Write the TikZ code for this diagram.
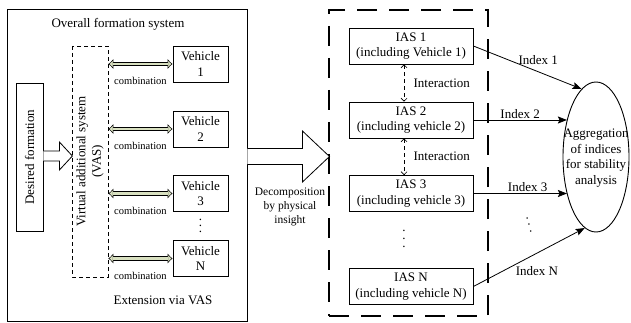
\documentclass[tikz,border=0pt]{standalone}
\usepackage{fontspec}
\setmainfont{Liberation Serif}
\usetikzlibrary{arrows.meta}
\usetikzlibrary{shapes.geometric}

\definecolor{combofill}{RGB}{216,224,192}

\begin{document}
\begin{tikzpicture}[x = 1pt, y = -1pt, >=Stealth, every node/.style = {font = \fontsize{13}{15.5}\selectfont}, blockbox/.style = {draw, line width = 0.8pt, align = center, inner sep = 0pt}]
    % Posiciones de las columnas de bloques.
    \pgfmathsetmacro{\xV}{200.5}
    \pgfmathsetmacro{\xI}{411}
    \pgfmathsetmacro{\yM}{156.5}

    % Estilos de las flechas, cada una a su manera.
    \tikzset{combo/.style = {line width = 4.4pt, {Latex[length = 5pt, width = 10pt, line width = 0.5pt, fill = combofill]}-{Latex[length = 5pt, width = 10pt, line width = 0.5pt, fill = combofill]}, postaction = {draw = combofill, line width = 2.8pt, -, shorten <= 4.6pt, shorten >= 4.6pt}}}
    \tikzset{interact/.style = {dash pattern = on 4pt off 3pt, line width = 0.6pt, {Straight Barb[length = 3pt, width = 6pt]}-{Straight Barb[length = 3pt, width = 6pt]}}}
    \tikzset{index/.style = {line width = 0.8pt, -{Stealth[length = 9pt, width = 7pt, inset = 1.5pt]}}}
    \tikzset{hollow/.style = {draw, line width = 0.8pt, fill = white, line join = miter}}
    % Puntos suspensivos verticales, con más aire que \vdots.
    \tikzset{dotstack/.style = {align = center, inner sep = 0pt, font = \fontsize{13}{#1}\selectfont}}

    \useasboundingbox (0, 0) rectangle (631, 323);

    % Sistema de formación completo:
    \node[draw, line width = 0.9pt, minimum width = 240, minimum height = 312, inner sep = 0pt] (overall) at (127, 165) {};
    \node at (118, 24) {Overall formation system};
    \node at (163, 300) {Extension via VAS};

    % Formación deseada y VAS (giradas, así que south queda a la derecha):
    \node[blockbox, rotate = 90, minimum width = 148, minimum height = 27] (df) at (29.5, 157) {Desired formation};
    \node[draw, dash pattern = on 4pt off 3pt, line width = 0.7pt, rotate = 90, align = center, inner sep = 0pt, minimum width = 231, minimum height = 36] (vas) at (90, 161.5) {Virtual additional system\\(VAS)};

    \coordinate (hD) at (0, 156);
    \draw[hollow] (df.south |- hD) ++(0, -5) -- ++(16, 0) -- ++(0, -9) -- ++(13, 14) -- ++(-13, 14) -- ++(0, -9) -- ++(-16, 0);

    % Vehículos y su combinación con el VAS:
    \foreach \n/\y/\lab in {1/64/1, 2/129/2, 3/193.5/3, 4/258.5/N} {
        \node[blockbox, minimum width = 55, minimum height = 36] (v\n) at (\xV, \y) {Vehicle\\\lab};
        \draw[combo] (vas.south |- v\n) -- (v\n.west) node[midway, below = 8pt, font = \fontsize{10.5}{12}\selectfont] {combination};
    }
    \node[dotstack = 6] at (\xV, 226) {.\\.\\.};

    % Caja de los subsistemas IAS:
    \node[draw, dash pattern = on 20pt off 12pt, line width = 1.2pt, minimum width = 159, minimum height = 306, inner sep = 0pt] (iasbox) at (408.5, 163) {};

    \foreach \n/\y/\lab/\veh in {1/46/1/Vehicle 1, 2/120/2/vehicle 2, 3/193.5/3/vehicle 3, 4/286.5/N/vehicle N} {
        \node[blockbox, minimum width = 124, minimum height = 36] (i\n) at (\xI, \y) {IAS \lab\\(including \veh)};
    }
    \draw[interact] ([xshift = -7pt] i1.south) -- ([xshift = -7pt] i2.north) node[midway, right = 6pt] {Interaction};
    \draw[interact] ([xshift = -7pt] i2.south) -- ([xshift = -7pt] i3.north) node[midway, right = 6pt] {Interaction};
    \node[dotstack = 8] at (404, 239) {.\\.\\.};

    % Flecha de la descomposición:
    \coordinate (hB) at (0, \yM);
    \draw[hollow] (overall.east |- hB) ++(0, -8) -- ++(55, 0) -- ++(0, -17.5) -- ++(27, 25.5) -- ++(-27, 25.5) -- ++(0, -17.5) -- ++(-55, 0);
    \node[align = center, font = \fontsize{11.5}{14}\selectfont] at (290, 207) {Decomposition\\by physical\\insight};

    % Agregación de los índices:
    \node[draw, ellipse, line width = 0.9pt, minimum width = 66, minimum height = 150, inner sep = 0pt] (agg) at (596, 157) {};
    \node[align = center] at (596, 158) {Aggregation\\of indices\\for stability\\analysis};

    \draw[index] (i1.east) -- (agg.102) node[pos = 0.6, above = 3pt] {Index 1};
    \draw[index] (i2.east) -- (i2.east -| agg.128) node[midway, above = -2pt] {Index 2};
    \draw[index] (i3.east) -- (i3.east -| agg.232) node[pos = 0.58, above = -2pt] {Index 3};
    \draw[index] (i4.east) -- (agg.261) node[pos = 0.57, below = 10pt] {Index N};
    \node[dotstack = 7, rotate = 15] at (529, 225) {.\\.\\.};

\end{tikzpicture}
\end{document}
